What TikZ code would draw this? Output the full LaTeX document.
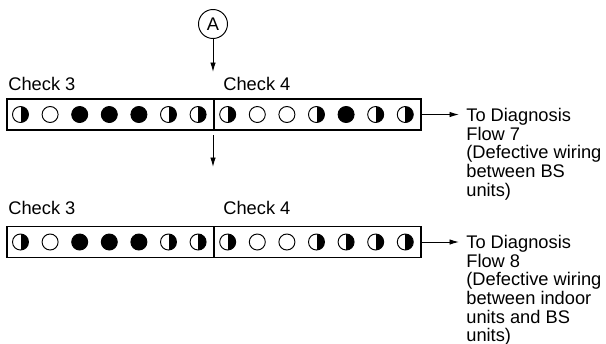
\documentclass[tikz,border=0pt]{standalone}
\usepackage{fontspec}
\setmainfont{Liberation Sans}
\usepackage{tikz}
\usetikzlibrary{arrows.meta,positioning,calc}
\tikzset{
	txt/.style={font=\fontsize{10.4}{10.6}\selectfont, inner sep=0pt},
	panel/.style={draw, line width=0.7pt, minimum width=4.14cm, minimum height=0.62cm, inner sep=0pt},
	lamp/.style={draw, circle, line width=0.55pt, minimum size=0.32cm, inner sep=0pt},
	lampO/.style={lamp},
	lampF/.style={lamp, fill=black},
	lampH/.style={lamp, path picture={\fill[black] (path picture bounding box.north) rectangle (path picture bounding box.south east);}},
	flow/.style={txt, anchor=north west, align=left},
	arr/.style={line width=0.55pt, -{Latex[length=1.9mm, width=1.1mm]}},
}
\begin{document}
\begin{tikzpicture}[x=1cm, y=1cm]
	\useasboundingbox (0,0) rectangle (12.12,-6.86);
	% entry point
	\node[draw, circle, line width=0.55pt, minimum size=0.58cm, txt] at (4.26,-0.48) (ca) {A};
	\coordinate (a1) at (4.26,-1.44);
	\draw[arr] (ca.south) -- (a1);
	% first result row
	\node[txt, anchor=base west] at (0.16,-1.80) (c3a) {Check 3};
	\node[txt, anchor=base west] at (4.46,-1.80) (c4a) {Check 4};
	\node[panel] at (2.21,-2.29) (b1l) {};
	\node[panel] at (6.35,-2.29) (b1r) {};
	\foreach \s [count=\i from 0] in {H,O,F,F,F,H,H,H,O,O,H,F,H,H}
		\node[lamp\s] at (0.41+0.592*\i,-2.29) (r1-\i) {};
	\coordinate (e1) at (9.18,-2.29);
	\draw[arr] (b1r.east) -- (e1);
	\node[flow] at (9.32,-2.16) (t1) {To Diagnosis\\Flow 7\\(Defective wiring\\between BS\\units)};
	\coordinate (d0) at (4.26,-2.70);
	\coordinate (d1) at (4.26,-3.34);
	\draw[arr] (d0) -- (d1);
	% second result row
	\node[txt, anchor=base west] at (0.16,-4.29) (c3b) {Check 3};
	\node[txt, anchor=base west] at (4.46,-4.29) (c4b) {Check 4};
	\node[panel] at (2.21,-4.84) (b2l) {};
	\node[panel] at (6.35,-4.84) (b2r) {};
	\foreach \s [count=\i from 0] in {H,O,F,F,F,H,H,H,O,O,H,H,H,H}
		\node[lamp\s] at (0.41+0.592*\i,-4.84) (r2-\i) {};
	\coordinate (e2) at (9.18,-4.84);
	\draw[arr] (b2r.east) -- (e2);
	\node[flow] at (9.32,-4.70) (t2) {To Diagnosis\\Flow 8\\(Defective wiring\\between indoor\\units and BS\\units)};
\end{tikzpicture}
\end{document}
